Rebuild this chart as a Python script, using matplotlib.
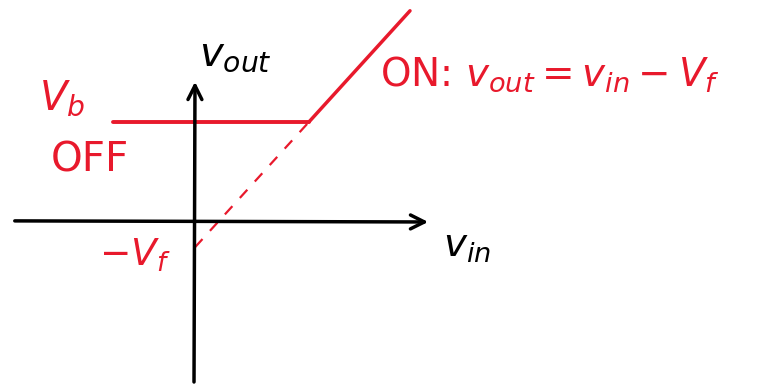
import matplotlib
matplotlib.use("Agg")
from matplotlib import pyplot as plt

# --- Datos (unidades del dibujo) ---
Vb = 0.91          # nivel de saturación (OFF)
Vf = 0.23          # caída del diodo
vin_off = [-0.82, Vb + Vf]
vout_off = [Vb, Vb]
vin_on = [Vb + Vf, 2.15]
vout_on = [v - Vf for v in vin_on]
vin_dash = [0.0, Vb + Vf]
vout_dash = [v - Vf for v in vin_dash]

rojo = "#e8192c"

fig = plt.figure(figsize=(7.63, 3.85), dpi=100)
ax = fig.add_axes([0, 0, 1, 1])
ax.set_xlim(-1.95, 5.68)
ax.set_ylim(-1.482, 2.018)
ax.axis("off")

# Ejes dibujados a mano
ax.annotate("", xy=(2.36, 0), xytext=(-1.83, 0.01),
            arrowprops=dict(arrowstyle="->", lw=2.5, color="black", mutation_scale=25))
ax.annotate("", xy=(0.0, 1.30), xytext=(-0.01, -1.48),
            arrowprops=dict(arrowstyle="->", lw=2.5, color="black", mutation_scale=25))

# Característica
ax.plot(vin_off, vout_off, c=rojo, lw=2.8, solid_capstyle="round")
ax.plot(vin_on, vout_on, c=rojo, lw=2.5, solid_capstyle="round")
ax.plot(vin_dash, vout_dash, "--", c=rojo, lw=1.6, dashes=(5, 5))

# Etiquetas
ax.text(0.40, 1.52, r"$v_{out}$", fontsize=29, ha="center", va="center")
ax.text(2.72, -0.22, r"$v_{in}$", fontsize=28, ha="center", va="center")
ax.text(-1.33, 1.12, r"$V_b$", fontsize=29, color=rojo, ha="center", va="center")
ax.text(-1.05, 0.56, "OFF", fontsize=29, color=rojo, ha="center", va="center")
ax.text(-0.60, -0.30, r"$-V_f$", fontsize=27, color=rojo, ha="center", va="center")
ax.text(1.85, 1.34, r"ON: $v_{out} = v_{in} - V_f$", fontsize=28, color=rojo,
        ha="left", va="center")

fig.savefig("out.png", dpi=100)
